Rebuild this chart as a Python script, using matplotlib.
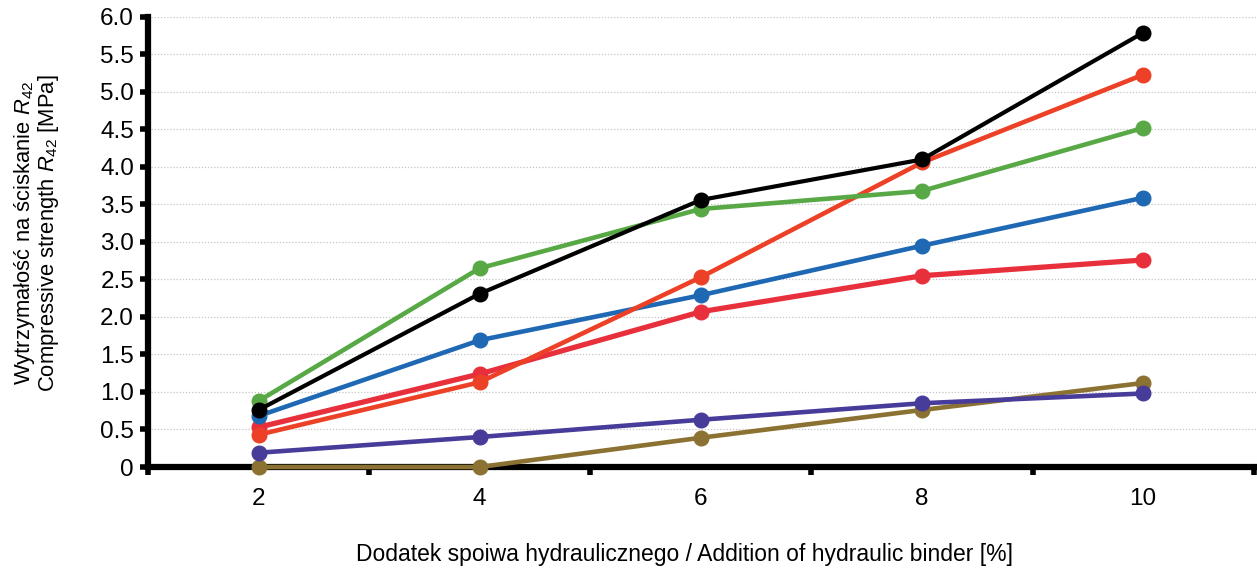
import matplotlib.pyplot as plt
from matplotlib.ticker import FixedLocator, NullFormatter

plt.rcParams['font.family'] = ['Liberation Sans', 'DejaVu Sans']
plt.rcParams['mathtext.fontset'] = 'custom'
plt.rcParams['mathtext.it'] = 'Liberation Sans:italic'
plt.rcParams['mathtext.rm'] = 'Liberation Sans'

binder = [2, 4, 6, 8, 10]

# series, drawn bottom to top
brown = [0.0, 0.0, 0.39, 0.76, 1.12]
purple = [0.19, 0.40, 0.63, 0.85, 0.98]
red = [0.53, 1.24, 2.07, 2.55, 2.76]
blue = [0.68, 1.69, 2.29, 2.95, 3.59]
orange = [0.43, 1.13, 2.53, 4.06, 5.23]
green = [0.88, 2.65, 3.44, 3.68, 4.52]
black = [0.76, 2.31, 3.56, 4.10, 5.79]

series = [
    (brown, "#8c7232", 3.3),
    (purple, "#473c99", 3.3),
    (red, "#e8303c", 3.8),
    (blue, "#1f69b4", 3.3),
    (orange, "#ec4126", 3.3),
    (green, "#58a946", 3.3),
    (black, "#000000", 3.0),
]

y_ticks = [0, 0.5, 1.0, 1.5, 2.0, 2.5, 3.0, 3.5, 4.0, 4.5, 5.0, 5.5, 6.0]
y_labels = ["0", "0.5", "1.0", "1.5", "2.0", "2.5", "3.0", "3.5", "4.0", "4.5", "5.0", "5.5", "6.0"]

fig = plt.figure(figsize=(12.57, 5.70), dpi=100)
ax = fig.add_axes([0.1177, 0.1807, 0.8823, 0.7895])

for vals, col, lw in series:
    ax.plot(binder, vals, color=col, linewidth=lw, marker="o", markersize=10.5,
            clip_on=False, zorder=3)

ax.set_xlim(1, 11.03)
ax.set_ylim(0, 6.0)

ax.set_yticks(y_ticks)
ax.set_yticklabels(y_labels, fontsize=17.5)
ax.yaxis.grid(True, linestyle=(0, (1, 1.5)), color="#c4c4c4", linewidth=0.9)
ax.set_axisbelow(True)

# tick marks between categories, labels under categories
ax.xaxis.set_major_locator(FixedLocator([1, 3, 5, 7, 9, 11]))
ax.xaxis.set_major_formatter(NullFormatter())
ax.xaxis.set_minor_locator(FixedLocator(binder))
ax.set_xticklabels([str(b) for b in binder], minor=True, fontsize=17.5)
ax.tick_params(axis="x", which="minor", length=0, pad=15)
ax.tick_params(axis="x", which="major", length=6, width=4, direction="out")
ax.tick_params(axis="y", length=6, width=4, direction="out", pad=4)

for s in ["top", "right"]:
    ax.spines[s].set_visible(False)
for s in ["left", "bottom"]:
    ax.spines[s].set_linewidth(4.5)
    ax.spines[s].set_zorder(2)

ax.set_ylabel("Wytrzymałość na ściskanie $R_{42}$\nCompressive strength $R_{42}$ [MPa]",
              fontsize=15.8, linespacing=0.95)
ax.yaxis.set_label_coords(-0.078, 0.52)
ax.set_xlabel("Dodatek spoiwa hydraulicznego / Addition of hydraulic binder [%]",
              fontsize=16.5)
ax.xaxis.set_label_coords(0.484, -0.168)

fig.savefig("out.png", dpi=100)
plt.close(fig)
